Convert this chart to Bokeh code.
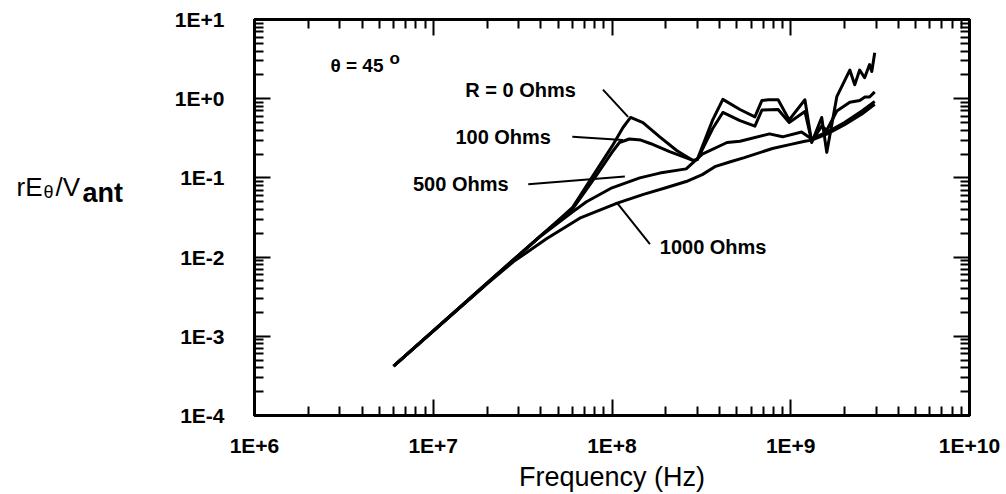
from bokeh.plotting import figure
from bokeh.models import LogAxis, FixedTicker, CustomJSTickFormatter, Label, Range1d
from bokeh.layouts import row
from bokeh.core.properties import value
from bokeh.embed import file_html
from bokeh.resources import INLINE

# ---------------- data ----------------
freq_r0 = [6e6, 2e7, 4e7, 5e7, 6e7, 8e7, 1e8, 1.15e8, 1.27e8, 1.49e8, 1.85e8, 2.31e8, 2.84e8, 3.0e8,
           3.66e8, 4.17e8, 5.2e8, 6.3e8, 6.9e8, 7.5e8, 8.5e8, 9.8e8, 1.2e9, 1.31e9, 1.49e9, 1.59e9,
           1.81e9, 2.14e9, 2.28e9, 2.43e9, 2.59e9, 2.76e9, 2.84e9, 2.95e9]
e_r0 = [4.2e-4, 4.7e-3, 1.87e-2, 2.9e-2, 4.2e-2, 0.115, 0.25, 0.43, 0.58, 0.50, 0.33, 0.22, 0.166, 0.17,
        0.54, 0.98, 0.73, 0.59, 0.95, 0.97, 0.97, 0.54, 0.97, 0.28, 0.58, 0.21,
        1.06, 2.3, 1.5, 2.3, 1.84, 2.7, 2.2, 3.8]

freq_r100 = [6e6, 2e7, 4e7, 6e7, 8e7, 1e8, 1.1e8, 1.25e8, 1.45e8, 1.65e8, 2.1e8, 2.84e8, 3.0e8,
             3.66e8, 4.17e8, 5.2e8, 6.3e8, 6.9e8, 8.5e8, 9.8e8, 1.2e9, 1.31e9, 1.49e9, 1.59e9,
             1.81e9, 2.14e9, 2.43e9, 2.6e9, 2.76e9, 2.95e9]
e_r100 = [4.2e-4, 4.7e-3, 1.87e-2, 4.0e-2, 0.10, 0.21, 0.28, 0.31, 0.30, 0.27, 0.215, 0.166, 0.17,
          0.42, 0.67, 0.53, 0.45, 0.72, 0.73, 0.50, 0.69, 0.29, 0.45, 0.40,
          0.70, 0.90, 0.95, 1.05, 1.05, 1.22]

freq_r500 = [6e6, 2e7, 4e7, 6e7, 7.2e7, 1e8, 1.43e8, 1.85e8, 2.6e8, 3.2e8, 4.4e8, 5.2e8, 7.6e8, 9e8,
             1.15e9, 1.31e9, 1.6e9, 2e9, 2.5e9, 2.95e9]
e_r500 = [4.2e-4, 4.7e-3, 1.85e-2, 3.7e-2, 5.0e-2, 7.5e-2, 0.10, 0.115, 0.13, 0.20, 0.28, 0.29, 0.36, 0.33,
          0.38, 0.31, 0.38, 0.50, 0.70, 0.92]

freq_r1000 = [6e6, 2e7, 2.8e7, 4.3e7, 6.6e7, 1.07e8, 1.5e8, 2e8, 2.6e8, 3.2e8, 3.8e8, 4.6e8, 5.5e8,
              7.9e8, 1e9, 1.2e9, 1.31e9, 1.6e9, 2e9, 2.5e9, 2.95e9]
e_r1000 = [4.2e-4, 4.6e-3, 8.7e-3, 1.7e-2, 3.1e-2, 4.8e-2, 6.2e-2, 7.5e-2, 9.0e-2, 0.11, 0.14, 0.16, 0.18,
           0.235, 0.265, 0.29, 0.30, 0.36, 0.47, 0.64, 0.85]

series_freq = [freq_r0, freq_r100, freq_r500, freq_r1000]
series_e = [e_r0, e_r100, e_r500, e_r1000]

x_ticks = [1e6, 1e7, 1e8, 1e9, 1e10]
x_tick_labels = ["1E+6", "1E+7", "1E+8", "1E+9", "1E+10"]
y_ticks = [1e-4, 1e-3, 1e-2, 1e-1, 1e0, 1e1]
y_tick_labels = ["1E-4", "1E-3", "1E-2", "1E-1", "1E+0", "1E+1"]

curve_labels = ["R = 0 Ohms", "100 Ohms", "500 Ohms", "1000 Ohms"]
label_x = [1.51e7, 1.33e7, 7.7e6, 1.85e8]
label_y = [1.30, 0.33, 0.083, 0.0134]
leader_x0 = [8.9e7, 6.0e7, 3.4e7, 1.07e8]
leader_y0 = [1.30, 0.33, 0.083, 0.048]
leader_x1 = [1.23e8, 1.15e8, 1.18e8, 1.63e8]
leader_y1 = [0.59, 0.30, 0.104, 0.0146]

theta_text = "θ = 45"
theta_x, theta_y = 2.66e6, 2.6
degree_x, degree_y = 5.7e6, 3.25

# y-axis title pieces: text, x, baseline y (pixels in the title strip), size, weight
ylabel_parts = [("rE", 16, 209, "26px", "normal"),
                ("θ", 43, 215, "18px", "normal"),
                ("/V", 55, 209, "26px", "normal"),
                ("ant", 82, 217, "27px", "bold")]

FONT = "Liberation Sans"

# ---------------- title strip on the left ----------------
STRIP_W = 150
left = figure(width=STRIP_W, height=494, x_range=Range1d(0, STRIP_W), y_range=Range1d(494, 0),
              output_backend="svg", toolbar_location=None,
              x_axis_location=None, y_axis_location=None,
              min_border_left=0, min_border_right=0, min_border_top=0, min_border_bottom=0)
left.outline_line_color = None
left.xgrid.visible = False
left.ygrid.visible = False
for t, sx, sy, fs, fw in ylabel_parts:
    left.text(x=[sx], y=[sy], text=[t], text_font=value(FONT), text_font_size=fs,
              text_font_style=fw, text_baseline="alphabetic", text_align="left", text_color="black")

# ---------------- main figure ----------------
p = figure(width=1006 - STRIP_W, height=494, x_axis_type="log", y_axis_type="log",
           x_range=(1e6, 1e10), y_range=(1e-4, 1e1),
           output_backend="svg", toolbar_location=None,
           min_border_left=254 - STRIP_W, min_border_right=37, min_border_top=19, min_border_bottom=77)
p.xgrid.visible = False
p.ygrid.visible = False
p.outline_line_color = "black"
p.outline_line_width = 3

def minor_of(ticks):
    out = []
    for t in ticks[:-1]:
        out += [t * k for k in range(2, 10)]
    return out

fmt_code = """
const i = labels_at.findIndex(t => Math.abs(Math.log10(t) - Math.log10(tick)) < 1e-6);
return i >= 0 ? labels[i] : "";
"""
xfmt = CustomJSTickFormatter(args=dict(labels_at=x_ticks, labels=x_tick_labels), code=fmt_code)
yfmt = CustomJSTickFormatter(args=dict(labels_at=y_ticks, labels=y_tick_labels), code=fmt_code)
blank = CustomJSTickFormatter(code='return "";')

def style(ax):
    ax.axis_line_width = 3
    ax.axis_line_color = "black"
    ax.major_tick_line_width = 2
    ax.minor_tick_line_width = 2
    ax.major_tick_in = 16
    ax.major_tick_out = 0
    ax.minor_tick_in = 9
    ax.minor_tick_out = 0
    ax.major_label_text_font = FONT
    ax.major_label_text_font_style = "bold"
    ax.major_label_text_font_size = "21px"
    ax.major_label_text_color = "black"

xt = FixedTicker(ticks=x_ticks, minor_ticks=minor_of(x_ticks))
yt = FixedTicker(ticks=y_ticks, minor_ticks=minor_of(y_ticks))

xa = p.xaxis[0]
xa.ticker = xt
xa.formatter = xfmt
style(xa)
xa.major_label_standoff = 18
xa.axis_label = "Frequency (Hz)"
xa.axis_label_text_font = FONT
xa.axis_label_text_font_style = "normal"
xa.axis_label_text_font_size = "27px"
xa.axis_label_standoff = 2
xa.axis_label_text_color = "black"

ya = p.yaxis[0]
ya.ticker = yt
ya.formatter = yfmt
style(ya)
ya.major_label_standoff = 30

top = LogAxis(ticker=xt, formatter=blank)
style(top)
top.major_label_standoff = 0
p.add_layout(top, "above")

right = LogAxis(ticker=yt, formatter=blank)
style(right)
right.major_label_standoff = 0
p.add_layout(right, "right")

# ---------------- curves ----------------
for fx, ey in zip(series_freq, series_e):
    p.line(fx, ey, line_color="black", line_width=3, line_join="round")

# leader lines
p.segment(x0=leader_x0, y0=leader_y0, x1=leader_x1, y1=leader_y1, line_color="black", line_width=2)

# curve labels
for t, lx, ly in zip(curve_labels, label_x, label_y):
    p.add_layout(Label(x=lx, y=ly, text=t, text_font=FONT, text_font_style="bold",
                       text_font_size="20px", text_baseline="middle", text_align="left",
                       text_color="black"))

p.add_layout(Label(x=theta_x, y=theta_y, text=theta_text, text_font=FONT, text_font_style="bold",
                   text_font_size="19px", text_baseline="middle", text_align="left", text_color="black"))
p.add_layout(Label(x=degree_x, y=degree_y, text="o", text_font=FONT, text_font_style="bold",
                   text_font_size="17px", text_baseline="middle", text_align="left", text_color="black"))

layout = row(left, p, spacing=0)
open("out.html", "w").write(file_html(layout, INLINE))
